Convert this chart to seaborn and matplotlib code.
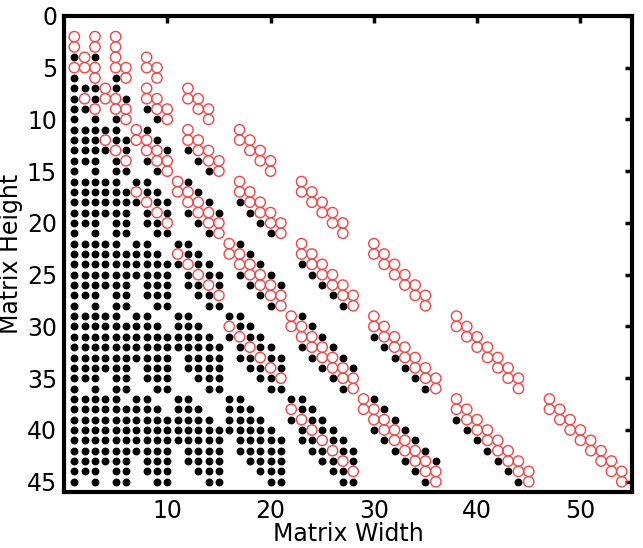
import pandas as pd
import seaborn as sns
import matplotlib.pyplot as plt

# Matrix heights (rows of the plot), top to bottom
heights = [2, 3, 4, 5, 6, 7, 8, 9, 10, 11, 12, 13, 14, 15, 16, 17, 18, 19, 20, 21, 22, 23,
           24, 25, 26, 27, 28, 29, 30, 31, 32, 33, 34, 35, 36, 37, 38, 39, 40, 41, 42, 43, 44, 45]

# widths drawn as filled black dots, one list per height
black_cols = [
    [],
    [],
    [1, 3],
    [],
    [1, 5],
    [1, 2, 3, 5],
    [1, 3, 6],
    [1, 2, 8],
    [1, 3, 5, 9],
    [1, 2, 3, 4, 5, 8],
    [1, 2, 3, 5, 6, 9],
    [1, 2, 3, 4, 6, 10, 12],
    [1, 2, 3, 5, 8, 13],
    [1, 3, 5, 6, 9, 14],
    [1, 2, 3, 4, 5, 7, 8, 12],
    [1, 2, 3, 4, 5, 6, 8, 9, 13],
    [1, 2, 3, 4, 5, 6, 7, 9, 10, 14, 17],
    [1, 2, 3, 4, 5, 6, 8, 10, 12, 15, 18],
    [1, 2, 3, 5, 6, 8, 9, 13, 19],
    [1, 3, 5, 6, 9, 10, 14, 20],
    [1, 2, 3, 4, 5, 7, 8, 11, 12, 17],
    [1, 2, 3, 4, 5, 6, 7, 8, 9, 12, 13, 18],
    [1, 2, 3, 4, 5, 6, 7, 8, 9, 10, 11, 13, 14, 19, 23],
    [1, 2, 3, 4, 5, 6, 7, 8, 9, 10, 12, 14, 15, 17, 20, 24],
    [1, 2, 3, 4, 5, 6, 8, 9, 10, 12, 13, 15, 18, 21, 25],
    [1, 2, 3, 5, 6, 8, 9, 10, 13, 14, 19, 26],
    [1, 3, 5, 6, 9, 10, 14, 15, 20, 27],
    [1, 2, 3, 4, 5, 7, 8, 11, 12, 16, 17, 23],
    [1, 2, 3, 4, 5, 6, 7, 8, 9, 11, 12, 13, 17, 18, 24],
    [1, 2, 3, 4, 5, 6, 7, 8, 9, 10, 11, 12, 13, 14, 16, 18, 19, 25, 30],
    [1, 2, 3, 4, 5, 6, 7, 8, 9, 10, 11, 12, 13, 14, 15, 17, 19, 20, 23, 26, 31],
    [1, 2, 3, 4, 5, 6, 7, 8, 9, 10, 12, 13, 14, 15, 17, 18, 20, 21, 24, 27, 32],
    [1, 2, 3, 4, 5, 6, 8, 9, 10, 12, 13, 14, 15, 18, 19, 21, 25, 28, 33],
    [1, 2, 3, 5, 6, 8, 9, 10, 13, 14, 15, 19, 20, 26, 34],
    [1, 3, 5, 6, 9, 10, 14, 15, 20, 21, 27, 35],
    [1, 2, 3, 4, 5, 7, 8, 11, 12, 16, 17, 22, 23, 30],
    [1, 2, 3, 4, 5, 6, 7, 8, 9, 11, 12, 13, 16, 17, 18, 23, 24, 31],
    [1, 2, 3, 4, 5, 6, 7, 8, 9, 10, 11, 12, 13, 14, 16, 17, 18, 19, 22, 24, 25, 32, 38],
    [1, 2, 3, 4, 5, 6, 7, 8, 9, 10, 11, 12, 13, 14, 15, 16, 17, 18, 19, 20,
     23, 25, 26, 30, 33, 39],
    [1, 2, 3, 4, 5, 6, 7, 8, 9, 10, 11, 12, 13, 14, 15, 17, 18, 19, 20, 21,
     23, 24, 26, 27, 31, 34, 40],
    [1, 2, 3, 4, 5, 6, 7, 8, 9, 10, 12, 13, 14, 15, 17, 18, 19, 20, 21,
     24, 25, 27, 28, 32, 35, 41],
    [1, 2, 3, 4, 5, 6, 8, 9, 10, 12, 13, 14, 15, 18, 19, 20, 21, 25, 26, 28, 33, 36, 42],
    [1, 2, 3, 5, 6, 8, 9, 10, 13, 14, 15, 19, 20, 21, 26, 27, 34, 43],
    [1, 3, 5, 6, 9, 10, 14, 15, 20, 21, 27, 28, 35, 44],
]

# widths drawn as open red circles, one list per height
red_cols = [
    [1, 3, 5],
    [1, 3, 5],
    [2, 5, 8],
    [1, 2, 3, 5, 6, 8, 9],
    [3, 6, 9],
    [4, 8, 12],
    [2, 4, 5, 8, 9, 12, 13],
    [3, 5, 6, 9, 10, 13, 14],
    [6, 10, 14],
    [7, 12, 17],
    [4, 7, 8, 12, 13, 17, 18],
    [5, 8, 9, 13, 14, 18, 19],
    [6, 9, 10, 14, 15, 19, 20],
    [10, 15, 20],
    [11, 17, 23],
    [7, 11, 12, 17, 18, 23, 24],
    [8, 12, 13, 18, 19, 24, 25],
    [9, 13, 14, 19, 20, 25, 26],
    [10, 14, 15, 20, 21, 26, 27],
    [15, 21, 27],
    [16, 23, 30],
    [11, 16, 17, 23, 24, 30, 31],
    [12, 17, 18, 24, 25, 31, 32],
    [13, 18, 19, 25, 26, 32, 33],
    [14, 19, 20, 26, 27, 33, 34],
    [15, 20, 21, 27, 28, 34, 35],
    [21, 28, 35],
    [22, 30, 38],
    [16, 22, 23, 30, 31, 38, 39],
    [17, 23, 24, 31, 32, 39, 40],
    [18, 24, 25, 32, 33, 40, 41],
    [19, 25, 26, 33, 34, 41, 42],
    [20, 26, 27, 34, 35, 42, 43],
    [21, 27, 28, 35, 36, 43, 44],
    [28, 36, 44],
    [29, 38, 47],
    [22, 29, 30, 38, 39, 47, 48],
    [23, 30, 31, 39, 40, 48, 49],
    [24, 31, 32, 40, 41, 49, 50],
    [25, 32, 33, 41, 42, 50, 51],
    [26, 33, 34, 42, 43, 51, 52],
    [27, 34, 35, 43, 44, 52, 53],
    [28, 35, 36, 44, 45, 53, 54],
    [36, 45, 54],
]

# long-form table for seaborn
rows = []
for h, bw, rw in zip(heights, black_cols, red_cols):
    for w in bw:
        rows.append((w, h, 'black'))
    for w in rw:
        rows.append((w, h, 'red'))
df = pd.DataFrame(rows, columns=['width', 'height', 'kind'])

sns.set_style('white')
plt.rcParams['font.family'] = ['DejaVu Sans']

fig = plt.figure(figsize=(6.43, 5.48), dpi=100)
ax = fig.add_axes([0.0995, 0.102, 0.8835, 0.869])

sns.scatterplot(data=df[df['kind'] == 'black'], x='width', y='height',
                color='black', s=32, linewidth=0, ax=ax, legend=False)
sns.scatterplot(data=df[df['kind'] == 'red'], x='width', y='height',
                marker='o', s=55, ax=ax, legend=False)
red = ax.collections[-1]
red.set_facecolor('none')
red.set_edgecolor('#f24545')
red.set_linewidth(1.0)

ax.set_xlim(0, 55)
ax.set_ylim(46, 0)
ax.set_xticks([10, 20, 30, 40, 50])
ax.set_yticks([0, 5, 10, 15, 20, 25, 30, 35, 40, 45])
ax.tick_params(direction='in', length=5, width=2.5, top=True, right=True,
               labelsize=17, pad=5, colors='black')
for sp in ax.spines.values():
    sp.set_linewidth(3)
    sp.set_color('black')

ax.set_xlabel('Matrix Width', fontsize=17, labelpad=-1, color='black')
ax.set_ylabel('Matrix Height', fontsize=17, labelpad=3, color='black')

fig.savefig('out.png', dpi=100)
